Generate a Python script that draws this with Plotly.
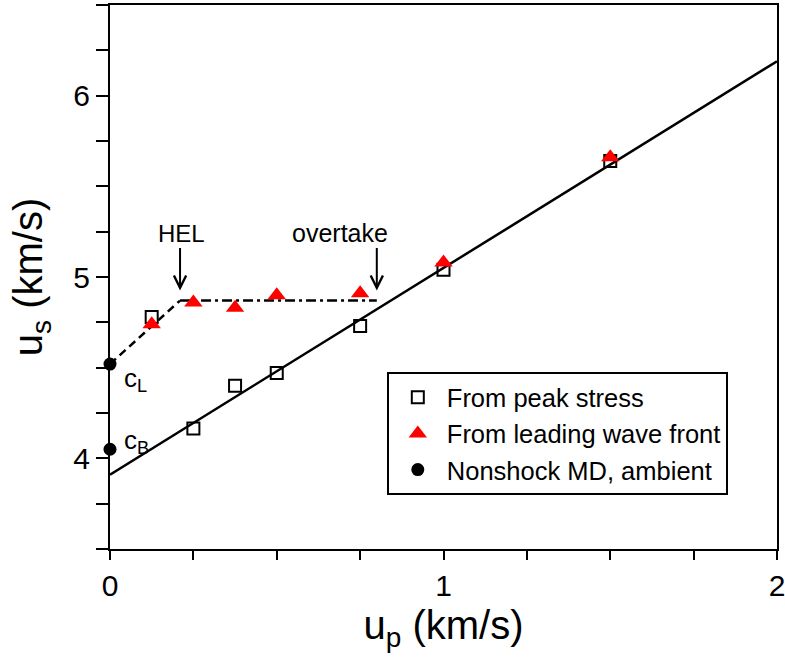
import plotly.graph_objects as go

# ---- data ----
peak_up = [0.125, 0.25, 0.375, 0.5, 0.75, 1.0, 1.5]
peak_us = [4.78, 4.165, 4.40, 4.47, 4.73, 5.04, 5.64]

lead_up = [0.125, 0.25, 0.375, 0.5, 0.75, 1.0, 1.5]
lead_us = [4.74, 4.86, 4.83, 4.90, 4.91, 5.08, 5.66]

md_up = [0.0, 0.0]
md_us = [4.52, 4.05]

fit_up = [0.0, 2.0]
fit_us = [3.91, 6.19]

elastic_up = [0.0, 0.21]
elastic_us = [4.52, 4.87]

plateau_up = [0.21, 0.80]
plateau_us = [4.87, 4.87]

x_tick_vals = [0, 0.25, 0.5, 0.75, 1, 1.25, 1.5, 1.75, 2]
x_tick_text = ["0", "", "", "", "1", "", "", "", "2"]
y_tick_vals = [3.5, 3.75, 4, 4.25, 4.5, 4.75, 5, 5.25, 5.5, 5.75, 6, 6.25, 6.5]
y_tick_text = ["", "", "4", "", "", "", "5", "", "", "", "6", "", ""]

hel_x, overtake_x = 0.21, 0.80
arrow_tail_y, arrow_head_y = 5.168, 4.926

FONT = "Liberation Sans, Arial, sans-serif"

fig = go.Figure()

fig.add_trace(go.Scatter(x=fit_up, y=fit_us, mode="lines",
                         line=dict(color="black", width=2.5), showlegend=False, hoverinfo="skip"))
fig.add_trace(go.Scatter(x=elastic_up, y=elastic_us, mode="lines",
                         line=dict(color="black", width=2.5, dash="8px,5px"), showlegend=False, hoverinfo="skip"))
fig.add_trace(go.Scatter(x=plateau_up, y=plateau_us, mode="lines",
                         line=dict(color="black", width=2.5, dash="10px,4px,3px,4px"), showlegend=False, hoverinfo="skip"))

fig.add_trace(go.Scatter(x=peak_up, y=peak_us, mode="markers", name="From peak stress",
                         marker=dict(symbol="square-open", size=12, color="black", line=dict(width=2))))
fig.add_trace(go.Scatter(x=lead_up, y=lead_us, mode="markers", name="From leading wave front",
                         marker=dict(symbol="triangle-up", size=16, color="red", line=dict(width=0))))
fig.add_trace(go.Scatter(x=md_up, y=md_us, mode="markers", name="Nonshock MD, ambient",
                         marker=dict(symbol="circle", size=13, color="black"), cliponaxis=False))

# annotations
for xx in [hel_x, overtake_x]:
    fig.add_annotation(x=xx, y=arrow_head_y, ax=xx, ay=arrow_tail_y, axref="x", ayref="y",
                       xref="x", yref="y", text="", showarrow=True, arrowhead=5,
                       arrowsize=1.2, arrowwidth=2, arrowcolor="black")
fig.add_annotation(x=0.213, y=5.24, text="HEL", showarrow=False,
                   font=dict(family=FONT, size=24, color="black"))
fig.add_annotation(x=0.69, y=5.24, text="overtake", showarrow=False,
                   font=dict(family=FONT, size=25, color="black"))
fig.add_annotation(x=0.035, y=4.435, text="c<sub>L</sub>", showarrow=False, xanchor="left",
                   font=dict(family=FONT, size=26, color="black"))
fig.add_annotation(x=0.035, y=4.094, text="c<sub>B</sub>", showarrow=False, xanchor="left",
                   font=dict(family=FONT, size=26, color="black"))

fig.update_layout(
    width=785, height=661,
    margin=dict(l=110, r=8, t=5, b=112, autoexpand=False),
    paper_bgcolor="white", plot_bgcolor="white",
    font=dict(family=FONT, color="black"),
    showlegend=True,
    legend=dict(x=0.415, y=0.325, xanchor="left", yanchor="top",
                bordercolor="black", borderwidth=2, bgcolor="white",
                font=dict(family=FONT, size=25.5, color="black"),
                itemwidth=48),
    xaxis=dict(range=[0, 2], tickvals=x_tick_vals, ticktext=x_tick_text,
               ticks="outside", ticklen=9, tickwidth=2, tickcolor="black",
               showline=True, linewidth=2, linecolor="black", mirror=True,
               showgrid=False, zeroline=False, automargin=False,
               ticklabeloverflow="allow",
               tickfont=dict(family=FONT, size=30, color="black"),
               title=dict(text="u<sub>p</sub> (km/s)", font=dict(family=FONT, size=40, color="black"),
                          standoff=10)),
    yaxis=dict(range=[3.5, 6.5], tickvals=y_tick_vals, ticktext=y_tick_text,
               ticks="outside", ticklen=12, tickwidth=2, tickcolor="black",
               showline=True, linewidth=2, linecolor="black", mirror=True,
               showgrid=False, zeroline=False, automargin=False,
               ticklabeloverflow="allow",
               tickfont=dict(family=FONT, size=30, color="black"),
               title=dict(text="u<sub>s</sub> (km/s)", font=dict(family=FONT, size=40, color="black"),
                          standoff=18)),
)

fig.write_html("out.html", config={"displayModeBar": False},
               post_script="document.body.style.margin='0px';")
